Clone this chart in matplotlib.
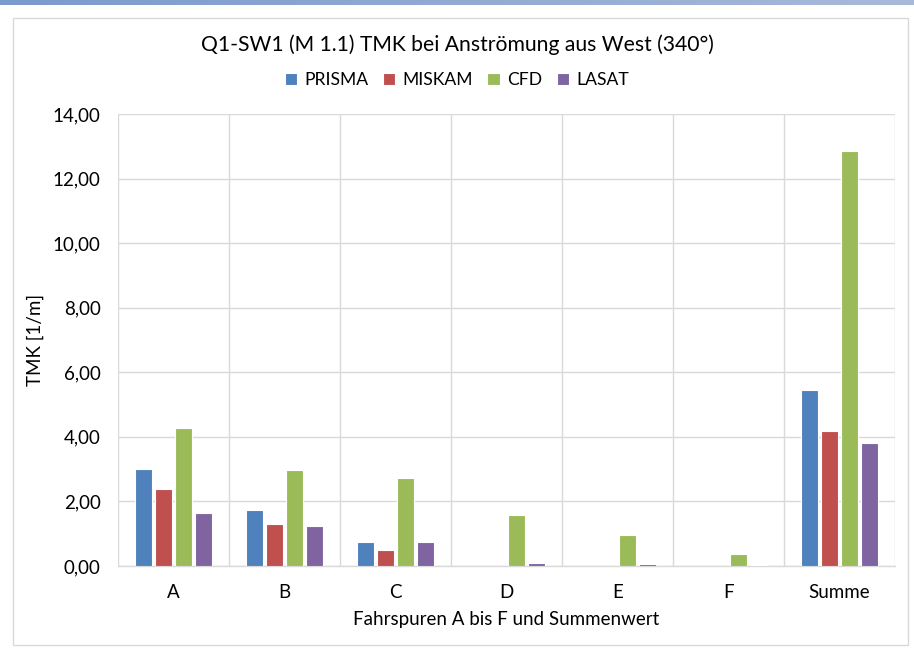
import numpy as np
import matplotlib.pyplot as plt
from matplotlib.patches import Rectangle
from matplotlib.colors import LinearSegmentedColormap

plt.rcParams['font.family'] = ['Lato', 'DejaVu Sans']

# TMK je Fahrspur und Summe
categories = ['A', 'B', 'C', 'D', 'E', 'F', 'Summe']
prisma = [2.99, 1.72, 0.75, np.nan, np.nan, np.nan, 5.46]
miskam = [2.38, 1.30, 0.49, np.nan, np.nan, np.nan, 4.17]
cfd = [4.27, 2.97, 2.72, 1.59, 0.95, 0.36, 12.86]
lasat = [1.64, 1.24, 0.73, 0.08, 0.07, 0.04, 3.80]
series_names = ['PRISMA', 'MISKAM', 'CFD', 'LASAT']
colors = ['#4F81BD', '#C0504D', '#9BBB59', '#8064A2']
yticks = [0, 2, 4, 6, 8, 10, 12, 14]

fig = plt.figure(figsize=(9.14, 6.63), dpi=100)

# blauer Balken am oberen Rand
band = fig.add_axes([0, 1 - 5 / 663, 1, 5 / 663])
cmap = LinearSegmentedColormap.from_list('band', ['#7b9acd', '#a9b9da'])
band.imshow(np.linspace(0, 1, 256)[None, :], aspect='auto', cmap=cmap)
band.axis('off')

# Rahmen um das Diagramm
fig.patches.append(Rectangle((13 / 914, 1 - 645 / 663), 895 / 914, 627 / 663,
                             transform=fig.transFigure, fill=False,
                             edgecolor='#d9d9d9', linewidth=1.0))

ax = fig.add_axes([118 / 914, 1 - 566 / 663, 777 / 914, 452 / 663])

x = np.arange(len(categories))
step = 0.18
for i, (name, vals) in enumerate(zip(series_names, [prisma, miskam, cfd, lasat])):
    ax.bar(x + (i - 1.5) * step, vals, width=0.16, color=colors[i],
           edgecolor='white', linewidth=0.8, label=name, zorder=3)

ax.set_xlim(-0.5, len(categories) - 0.5)
ax.set_ylim(0, 14)
ax.set_yticks(yticks)
ax.set_yticklabels([f'{v:.2f}'.replace('.', ',') for v in yticks])
ax.set_xticks(x)
ax.set_xticklabels(categories)
ax.set_xticks(np.arange(-0.5, len(categories)), minor=True)

ax.grid(axis='y', color='#d9d9d9', linewidth=1.0, zorder=0)
ax.grid(axis='x', which='minor', color='#d9d9d9', linewidth=1.0, zorder=0)
ax.grid(axis='x', which='major', visible=False)
for side in ['top', 'right', 'left']:
    ax.spines[side].set_visible(False)
ax.spines['bottom'].set_color('#d9d9d9')
ax.spines['bottom'].set_linewidth(1.0)
ax.tick_params(axis='both', which='both', length=0, labelsize=13.5, colors='#000000')
ax.tick_params(axis='x', pad=13)
ax.tick_params(axis='y', pad=12.5)

ax.set_xlabel('Fahrspuren A bis F und Summenwert', fontsize=13.5, labelpad=7)
ax.set_ylabel('TMK [1/m]', fontsize=13.5, labelpad=6)

fig.text(0.5, 1 - 45 / 663, 'Q1-SW1 (M 1.1) TMK bei Anströmung aus West (340°)',
         ha='center', va='center', fontsize=15.2)
fig.legend(loc='center', bbox_to_anchor=(0.5, 1 - 80 / 663), ncol=4, frameon=False,
           fontsize=12.6, handlelength=0.7, handleheight=0.7, handletextpad=0.45,
           columnspacing=0.8)

fig.savefig('out.png', dpi=100)
